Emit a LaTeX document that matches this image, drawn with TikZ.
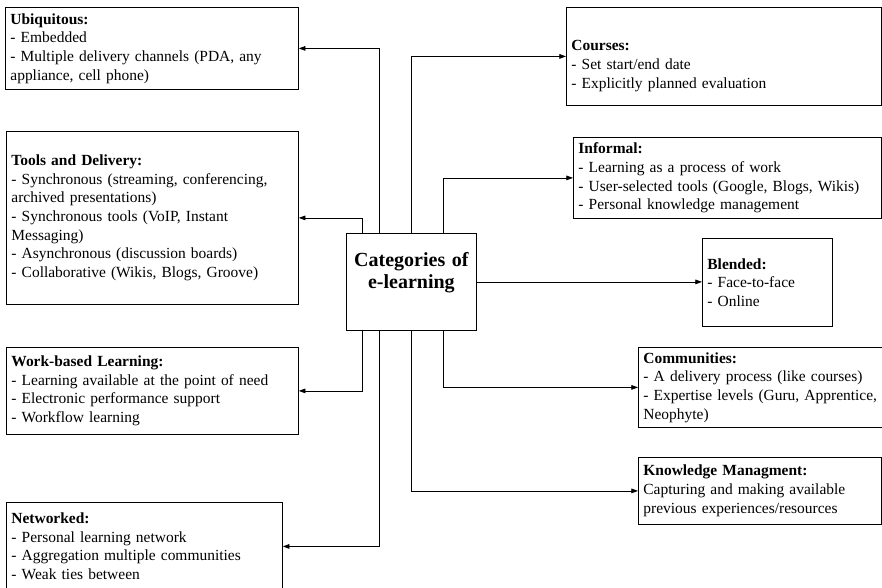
\documentclass[tikz,border=0pt]{standalone}
\usepackage{fontspec}
\setmainfont{Liberation Serif}
\usetikzlibrary{arrows.meta,calc}

\begin{document}
\begin{tikzpicture}[x=0.75pt,y=-0.75pt,
  line width=0.6pt,>={Triangle[length=5pt,width=3.5pt]},
  item node/.style={draw,anchor=north west,align=left,inner xsep=3.75pt,inner ysep=0pt,
    font=\fontsize{11.6}{14}\selectfont},
  main node/.style={draw,anchor=north west,align=center,inner xsep=3.75pt,inner ysep=0pt,
    font=\fontsize{15}{16.5}\selectfont\bfseries}]

  \useasboundingbox (0,0) rectangle (882,587);

  \node[main node,text width=90pt,minimum height=72.75pt] (cat) at (346,233)
    {Categories of\\e-learning\\\mbox{}};

  \node[item node,text width=212.25pt,minimum height=61.5pt] (ubi) at (5,7)
    {\textbf{Ubiquitous:}\\- Embedded\\- Multiple delivery channels (PDA, any\\appliance, cell phone)};
  \node[item node,text width=211.5pt,minimum height=129.75pt] (tools) at (6,131)
    {\textbf{Tools and Delivery:}\\- Synchronous (streaming, conferencing,\\archived presentations)\\- Synchronous tools (VoIP, Instant\\Messaging)\\- Asynchronous (discussion boards)\\- Collaborative (Wikis, Blogs, Groove)};
  \node[item node,text width=211.5pt,minimum height=65.25pt] (work) at (6,347)
    {\textbf{Work-based Learning:}\\- Learning available at the point of need\\- Electronic performance support\\- Workflow learning};
  \node[item node,text width=199.5pt,minimum height=66pt] (net) at (6,502)
    {\textbf{Networked:}\\- Personal learning network\\- Aggregation multiple communities\\- Weak ties between};

  \node[item node,text width=228.75pt,minimum height=73.5pt] (courses) at (566,7)
    {\mbox{}\\[8pt]\textbf{Courses:}\\- Set start/end date\\- Explicitly planned evaluation};
  \node[item node,text width=223.5pt,minimum height=60.75pt] (informal) at (573,137)
    {\textbf{Informal:}\\- Learning as a process of work\\- User-selected tools (Google, Blogs, Wikis)\\- Personal knowledge management};
  \node[item node,text width=90pt,minimum height=66pt] (blended) at (702,238)
    {\textbf{Blended:}\\- Face-to-face\\- Online};
  \node[item node,text width=176pt,minimum height=60pt] (comm) at (638,347)
    {\textbf{Communities:}\\- A delivery process (like courses)\\\mbox{- Expertise levels (Guru, Apprentice,}\\Neophyte)};
  \node[item node,text width=174.75pt,minimum height=50.25pt] (know) at (638,457)
    {\textbf{Knowledge Managment:}\\Capturing and making available\\previous experiences/resources};

  \draw[->] ($(cat.north)+(-32,0)$) |- (ubi.east);
  \draw[->] ($(cat.north)+(-49,0)$) |- (tools.east);
  \draw[->] ($(cat.south)+(-49,0)$) |- (work.east);
  \draw[->] ($(cat.south)+(-32,0)$) |- (net.east);
  \draw[->] (cat.north) |- (courses.west);
  \draw[->] ($(cat.north)+(32,0)$) |- (informal.west);
  \draw[->] (cat.east) -- (cat.east -| blended.west);
  \draw[->] ($(cat.south)+(32,0)$) |- (comm.west);
  \draw[->] (cat.south) |- (know.west);
\end{tikzpicture}
\end{document}
